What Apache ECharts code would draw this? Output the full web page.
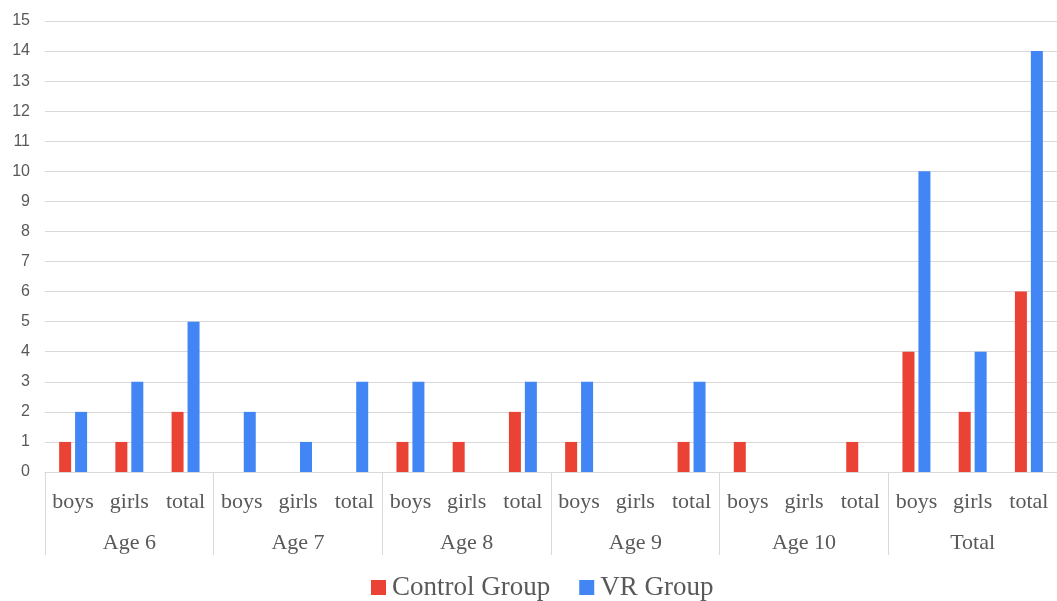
<!DOCTYPE html>
<html>
<head>
<meta charset="utf-8">
<script src="https://cdn.jsdelivr.net/npm/echarts@6/dist/echarts.min.js"></script>
<style>
  html, body { margin: 0; padding: 0; background: #ffffff; }
  #chart { width: 1057px; height: 601px; }
</style>
</head>
<body>
<div id="chart"></div>
<script>
// Sub-categories (one per bar pair) and the age groups they belong to
const subCategories = [
  'boys', 'girls', 'total',
  'boys', 'girls', 'total',
  'boys', 'girls', 'total',
  'boys', 'girls', 'total',
  'boys', 'girls', 'total',
  'boys', 'girls', 'total'
];
const groups = ['Age 6', 'Age 7', 'Age 8', 'Age 9', 'Age 10', 'Total'];

// Counts per sub-category
const controlGroup = [1, 1, 2, 0, 0, 0, 1, 1, 2, 1, 0, 1, 1, 0, 1, 4, 2, 6];
const vrGroup      = [2, 3, 5, 2, 1, 3, 3, 0, 3, 3, 0, 3, 0, 0, 0, 10, 4, 14];

const yTicks = { min: 0, max: 15, interval: 1 };

const textColor = '#595959';
const lineColor = '#d9d9d9';
const serif = '"Liberation Serif", "DejaVu Serif", serif';
const sans = '"Liberation Sans", Arial, sans-serif';

const chart = echarts.init(document.getElementById('chart'));
chart.setOption({
  animation: false,
  backgroundColor: '#ffffff',
  grid: { left: 45, right: -3, top: 21, bottom: 129, containLabel: false },
  legend: {
    bottom: -5,
    left: 366,
    itemWidth: 15,
    itemHeight: 15,
    itemGap: 29,
    icon: 'rect',
    textStyle: { fontFamily: serif, fontSize: 27, color: textColor, padding: [0, 0, 0, 1] },
    data: ['Control Group', 'VR Group']
  },
  xAxis: [
    {
      type: 'category',
      data: subCategories,
      position: 'bottom',
      axisLine: { show: true, lineStyle: { color: lineColor, width: 1 } },
      axisTick: { show: false },
      axisLabel: {
        interval: 0,
        margin: 19,
        fontFamily: serif,
        fontSize: 22,
        color: textColor
      },
      splitLine: { show: false }
    },
    {
      type: 'category',
      data: groups,
      position: 'bottom',
      offset: 0,
      axisLine: { show: false },
      axisTick: {
        show: true,
        length: 83,
        lineStyle: { color: lineColor, width: 1 }
      },
      axisLabel: {
        interval: 0,
        margin: 60,
        fontFamily: serif,
        fontSize: 22,
        color: textColor
      },
      splitLine: { show: false }
    }
  ],
  yAxis: {
    type: 'value',
    min: yTicks.min,
    max: yTicks.max,
    interval: yTicks.interval,
    axisLine: { show: false },
    axisTick: { show: false },
    axisLabel: { fontFamily: sans, fontSize: 16, color: textColor, margin: 15 },
    splitLine: { show: true, lineStyle: { color: lineColor, width: 1 } }
  },
  series: [
    {
      name: 'Control Group',
      type: 'bar',
      xAxisIndex: 0,
      data: controlGroup,
      barWidth: 12,
      barGap: '33%',
      itemStyle: { color: '#ea4335' }
    },
    {
      name: 'VR Group',
      type: 'bar',
      xAxisIndex: 0,
      data: vrGroup,
      barWidth: 12,
      barGap: '33%',
      itemStyle: { color: '#4285f4' }
    }
  ]
});
</script>
</body>
</html>
